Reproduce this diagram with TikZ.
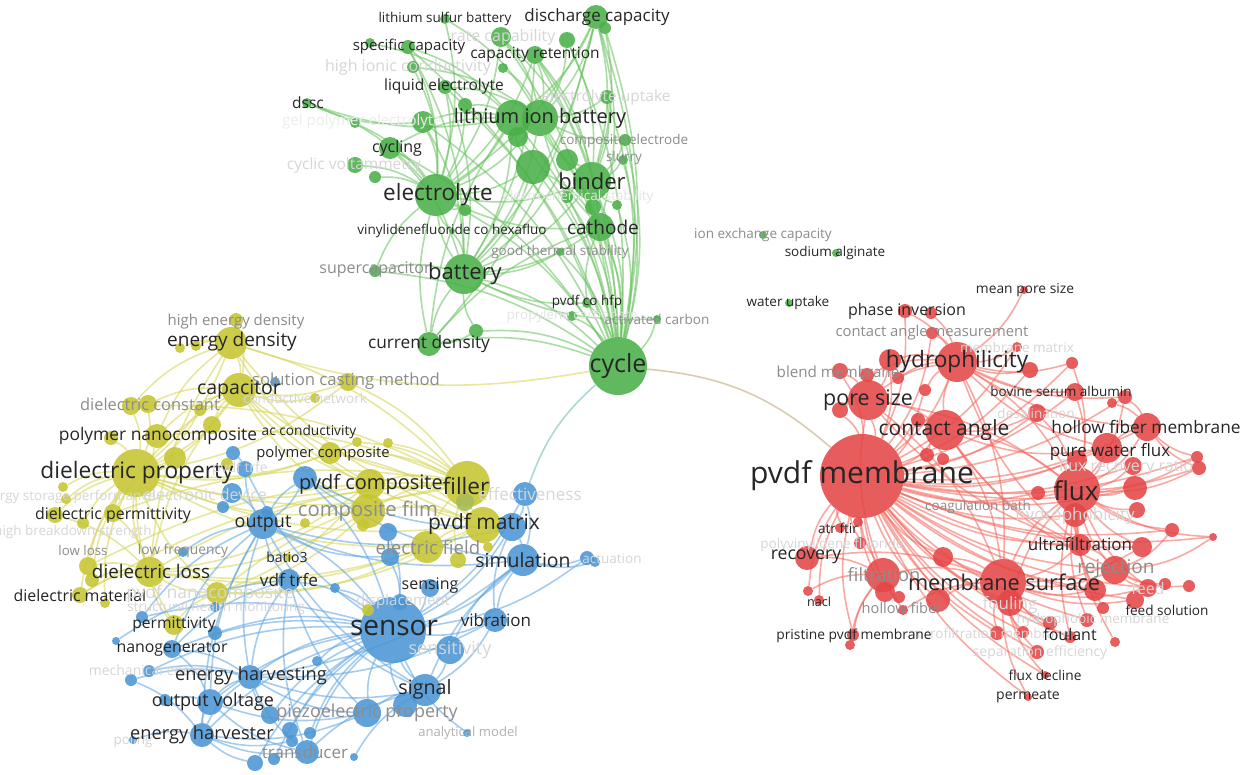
\documentclass[tikz,border=0pt]{standalone}
\usepackage{fontspec}
\setmainfont{Open Sans}
\pgfdeclarelayer{bg}
\pgfdeclarelayer{edges}
\pgfdeclarelayer{labels}
\pgfsetlayers{bg,edges,main,labels}
\definecolor{vgreen}{RGB}{74,176,72}
\definecolor{vyellow}{RGB}{198,198,50}
\definecolor{vblue}{RGB}{74,150,212}
\definecolor{vred}{RGB}{228,70,70}
\definecolor{gE}{RGB}{110,196,100}
\definecolor{yE}{RGB}{214,214,88}
\definecolor{bE}{RGB}{100,168,226}
\definecolor{rE}{RGB}{246,108,98}
\definecolor{tanE}{RGB}{190,168,118}
\definecolor{tealE}{RGB}{110,190,180}
\tikzset{
  kw/.style={circle, inner sep=0pt, minimum size=2*#1, fill opacity=.88},
  gk/.style={kw=#1, fill=vgreen},
  yk/.style={kw=#1, fill=vyellow},
  bk/.style={kw=#1, fill=vblue},
  rk/.style={kw=#1, fill=vred},
  tk/.style={font=\fontsize{#1}{#1}\selectfont, inner sep=0pt, text=black!85},
  tg/.style={tk=#1, text=black!45},
  tl/.style={tk=#1, text=black!16},
  link/.style={every edge/.style={draw=#1, line width=1.6pt, draw opacity=.58, bend right=14}}
}
\begin{document}
\begin{tikzpicture}[x=1pt,y=-1pt]
  \useasboundingbox (0,0) rectangle (1252,774);
  \begin{pgfonlayer}{bg}
    \fill[white] (0,0) rectangle (1252,774);
  \end{pgfonlayer}
  % battery cluster
  \node[gk=12] (dis) at (596,17) {};
  \node[gk=6] (dis2) at (605,28) {};
  \node[gk=5] (lsb) at (445,19) {};
  \node[gk=10] (rate) at (501,37) {};
  \node[gk=8] (g2) at (567,40) {};
  \node[gk=9] (capret) at (535,55) {};
  \node[gk=7] (spcap) at (408,47) {};
  \node[gk=5] (g3) at (370,43) {};
  \node[gk=6] (hic) at (413,67) {};
  \node[gk=5] (g4) at (503,68) {};
  \node[gk=7] (liqel) at (445,87) {};
  \node[gk=5] (dssc) at (307,103) {};
  \node[gk=7] (eup) at (607,97) {};
  \node[gk=7] (g5) at (465,105) {};
  \node[gk=5] (gpe) at (355,123) {};
  \node[gk=11] (g6) at (423,122) {};
  \node[gk=18] (lib1) at (513,118) {};
  \node[gk=18] (lib2) at (540,118) {};
  \node[gk=10] (g7) at (518,137) {};
  \node[gk=6] (cel) at (625,140) {};
  \node[gk=11] (cycl) at (390,148) {};
  \node[gk=5] (slur) at (623,160) {};
  \node[gk=11] (g8) at (567,160) {};
  \node[gk=17] (g9) at (533,167) {};
  \node[gk=8] (cv) at (355,165) {};
  \node[gk=6] (g10) at (375,177) {};
  \node[gk=19] (binder) at (592,181) {};
  \node[gk=21] (elyte) at (436,195) {};
  \node[gk=6] (g11) at (465,210) {};
  \node[gk=8] (g12) at (593,207) {};
  \node[gk=5] (g13) at (617,205) {};
  \node[gk=6] (g14) at (567,197) {};
  \node[gk=14] (cath) at (600,227) {};
  \node[gk=4] (gts) at (560,252) {};
  \node[gk=3] (vcf) at (452,231) {};
  \node[gk=6] (supc) at (375,271) {};
  \node[gk=20] (bat) at (464,274) {};
  \node[gk=5] (hfp) at (587,303) {};
  \node[gk=5] (prop) at (572,316) {};
  \node[gk=4] (acarb) at (657,319) {};
  \node[gk=12] (curden) at (429,344) {};
  \node[gk=7] (g15) at (476,331) {};
  \node[gk=29] (cycle) at (618,366) {};
  \node[gk=4] (iec) at (763,235) {};
  \node[gk=4] (sodal) at (836,253) {};
  \node[gk=4] (wup) at (789,303) {};
  % dielectric cluster
  \node[yk=7] (hed) at (236,320) {};
  \node[yk=16] (ed) at (231,343) {};
  \node[yk=5] (y1) at (180,348) {};
  \node[yk=5] (y2) at (196,346) {};
  \node[yk=9] (scm) at (348,382) {};
  \node[bk=5] (b1) at (275,382) {};
  \node[yk=5] (cnet) at (315,398) {};
  \node[yk=17] (capa) at (239,390) {};
  \node[yk=9] (dc1) at (131,406) {};
  \node[yk=9] (dc2) at (148,404) {};
  \node[yk=6] (y3) at (200,410) {};
  \node[yk=12] (pnc) at (157,436) {};
  \node[yk=7] (y4) at (111,438) {};
  \node[yk=9] (y5) at (212,425) {};
  \node[yk=5] (acc) at (357,442) {};
  \node[yk=5] (y6) at (388,443) {};
  \node[yk=11] (pcomp) at (330,453) {};
  \node[yk=24] (dp) at (136,473) {};
  \node[yk=11] (y7) at (175,458) {};
  \node[bk=7] (b2) at (233,453) {};
  \node[yk=6] (y8) at (227,464) {};
  \node[bk=8] (ptrfe) at (245,469) {};
  \node[bk=12] (b3) at (305,478) {};
  \node[yk=15] (pcy) at (370,484) {};
  \node[yk=23] (fil) at (467,484) {};
  \node[yk=9, fill=vyellow!75!vblue] (y9) at (465,502) {};
  \node[bk=12] (eff) at (525,494) {};
  \node[yk=17] (cf) at (368,511) {};
  \node[yk=5] (y10) at (305,523) {};
  \node[yk=6] (y11) at (363,525) {};
  \node[bk=10] (edev) at (232,493) {};
  \node[bk=6] (b4) at (223,507) {};
  \node[yk=5] (esp1) at (63,487) {};
  \node[yk=5] (esp2) at (66,499) {};
  \node[yk=8] (dpm1) at (55,515) {};
  \node[yk=9] (dpm2) at (113,513) {};
  \node[yk=6] (y12) at (83,523) {};
  \node[bk=15] (out) at (263,524) {};
  \node[bk=6] (b5) at (267,512) {};
  \node[yk=9] (y13) at (88,566) {};
  \node[yk=7] (y14) at (92,580) {};
  \node[bk=5] (lf) at (183,552) {};
  \node[yk=4] (bt) at (288,557) {};
  \node[yk=18] (pmy) at (483,525) {};
  \node[bk=14] (pmb) at (512,527) {};
  \node[yk=16] (ef) at (427,547) {};
  \node[bk=9] (b6) at (388,532) {};
  \node[bk=9] (b7) at (390,557) {};
  \node[bk=16] (sim) at (523,560) {};
  \node[yk=8] (y15) at (458,560) {};
  \node[yk=5] (y16) at (488,547) {};
  \node[bk=7] (b8) at (587,558) {};
  \node[bk=5] (b9) at (595,562) {};
  \node[yk=15] (dl) at (150,572) {};
  \node[bk=11] (vdf) at (289,580) {};
  \node[yk=8] (dm) at (80,595) {};
  \node[yk=5] (y17) at (105,603) {};
  \node[yk=11] (pnc2) at (217,593) {};
  \node[bk=5] (b10) at (215,607) {};
  \node[yk=10] (perm) at (174,625) {};
  \node[bk=6] (b11) at (142,617) {};
  \node[bk=7] (b12) at (215,633) {};
  % sensor cluster
  \node[bk=9] (ng) at (172,649) {};
  \node[bk=4] (b13) at (116,641) {};
  \node[bk=6] (b14) at (149,671) {};
  \node[bk=6] (b15) at (131,680) {};
  \node[bk=12] (eh) at (250,677) {};
  \node[bk=5] (b16) at (317,661) {};
  \node[bk=13] (ov) at (210,702) {};
  \node[bk=6] (b17) at (165,700) {};
  \node[bk=12] (eher) at (202,735) {};
  \node[bk=4] (b18) at (133,740) {};
  \node[bk=9] (b19) at (270,715) {};
  \node[bk=8] (b20) at (290,730) {};
  \node[bk=6] (b21) at (292,741) {};
  \node[bk=6] (b22) at (310,733) {};
  \node[bk=14] (pp) at (367,713) {};
  \node[bk=12] (b23) at (405,705) {};
  \node[bk=12] (trans) at (307,752) {};
  \node[bk=8] (b24) at (255,763) {};
  \node[bk=6] (b25) at (274,759) {};
  \node[bk=4] (b26) at (354,757) {};
  \node[bk=4] (am) at (467,733) {};
  \node[bk=16] (sig) at (425,690) {};
  \node[bk=33] (sensor) at (393,630) {};
  \node[bk=14] (sens) at (450,650) {};
  \node[bk=12] (vib) at (495,620) {};
  \node[bk=9] (sng) at (430,588) {};
  \node[bk=8] (b27) at (400,602) {};
  \node[yk=6] (y18) at (368,610) {};
  \node[bk=5] (b28) at (335,588) {};
  % membrane cluster
  \node[rk=4] (mps) at (1024,290) {};
  \node[rk=7] (pi1) at (905,311) {};
  \node[rk=6] (pi2) at (931,313) {};
  \node[rk=6] (cam) at (932,333) {};
  \node[rk=5] (mm) at (1017,347) {};
  \node[rk=20] (hyd) at (957,362) {};
  \node[rk=11] (r1) at (890,360) {};
  \node[rk=8] (r2) at (1030,370) {};
  \node[rk=6] (r3) at (1072,363) {};
  \node[rk=8] (bm1) at (840,371) {};
  \node[rk=7] (r4) at (867,375) {};
  \node[rk=6] (r5) at (898,378) {};
  \node[rk=9] (bsa) at (1075,392) {};
  \node[rk=7] (r6) at (1125,397) {};
  \node[rk=5] (r7) at (1112,403) {};
  \node[rk=9] (des) at (1037,413) {};
  \node[rk=20] (ps) at (868,400) {};
  \node[rk=8] (r8) at (840,410) {};
  \node[rk=6] (r9) at (925,390) {};
  \node[rk=20] (ca) at (945,430) {};
  \node[rk=7] (r10) at (918,420) {};
  \node[rk=7] (r11) at (927,455) {};
  \node[rk=6] (r12) at (943,459) {};
  \node[rk=14] (hfm) at (1147,427) {};
  \node[rk=15] (pwf) at (1107,448) {};
  \node[rk=10] (r14) at (1077,460) {};
  \node[rk=6] (r15) at (1197,457) {};
  \node[rk=7] (r16) at (1199,468) {};
  \node[rk=9] (frr) at (1133,466) {};
  \node[rk=42] (pm) at (862,476) {};
  \node[rk=23] (flux) at (1077,490) {};
  \node[rk=7] (r17) at (1038,493) {};
  \node[rk=12] (r18) at (1135,488) {};
  \node[rk=8] (r19) at (1137,510) {};
  \node[rk=12] (hpho) at (1075,515) {};
  \node[rk=5] (atr1) at (840,528) {};
  \node[rk=5] (atr2) at (858,522) {};
  \node[rk=6] (r20) at (860,543) {};
  \node[rk=12] (rec) at (807,558) {};
  \node[rk=10] (r21) at (943,557) {};
  \node[rk=11] (uf) at (1080,545) {};
  \node[rk=10] (r22) at (1142,547) {};
  \node[rk=7] (r23) at (1172,530) {};
  \node[rk=4] (r24) at (1213,537) {};
  \node[rk=17] (filt) at (883,575) {};
  \node[rk=10] (r25) at (885,592) {};
  \node[rk=6] (r26) at (899,597) {};
  \node[rk=12] (r27) at (938,600) {};
  \node[rk=23] (ms) at (1003,582) {};
  \node[rk=14] (rej) at (1115,570) {};
  \node[rk=11] (r28) at (1095,590) {};
  \node[rk=9] (feed) at (1148,588) {};
  \node[rk=6] (r29) at (1165,584) {};
  \node[rk=6] (r30) at (1189,586) {};
  \node[rk=9] (r31) at (1135,600) {};
  \node[rk=13] (foul) at (1010,603) {};
  \node[rk=5] (hf) at (903,610) {};
  \node[rk=5] (nacl1) at (808,591) {};
  \node[rk=5] (nacl2) at (819,600) {};
  \node[rk=6] (ppm1) at (853,635) {};
  \node[rk=5] (ppm2) at (850,645) {};
  \node[rk=7] (r32) at (1050,623) {};
  \node[rk=6] (fnt) at (1070,637) {};
  \node[rk=7] (r33) at (1087,620) {};
  \node[rk=6] (r34) at (1103,608) {};
  \node[rk=5] (r35) at (1115,642) {};
  \node[rk=6] (r36) at (1023,632) {};
  \node[rk=7] (r37) at (997,633) {};
  \node[rk=7] (se) at (1037,652) {};
  \node[rk=4] (fd) at (1045,675) {};
  \node[rk=4] (pmt) at (1028,697) {};
  % links
  \begin{pgfonlayer}{edges}
  \begin{scope}[link=gE]
    \path (cycle) edge (dis) edge (dis2) edge (rate) edge (capret) edge (g2) edge (eup) edge (lib1) edge (lib2) edge (binder) edge (cath) edge (bat) edge (elyte) edge (curden) edge (cel) edge (slur) edge (hfp) edge (prop) edge (acarb) edge (g8) edge (g9) edge (g12) edge (g13) edge (g14) edge (gts) edge (g15) edge (spcap) edge (liqel) edge (cycl) edge (supc) edge (g7) edge (g6);
    \path (elyte) edge (lib1) edge (lib2) edge (bat) edge (binder) edge (cath) edge (cycl) edge (liqel) edge (spcap) edge (hic) edge (gpe) edge (cv) edge (g10) edge (g6) edge (g5) edge (supc) edge (curden) edge (dssc) edge (capret) edge (dis) edge (g9) edge (vcf) edge (g11) edge (lsb) edge (rate);
    \path (bat) edge (lib1) edge (lib2) edge (binder) edge (cath) edge (curden) edge (supc) edge (g15) edge (g9) edge (g8) edge (capret) edge (dis) edge (hfp) edge (gts) edge (vcf) edge (g6) edge (cycl) edge (acarb) edge (liqel) edge (spcap);
    \path (lib2) edge (binder) edge (cath) edge (dis) edge (capret) edge (rate) edge (g2) edge (eup) edge (cel) edge (g8) edge (g7) edge (liqel) edge (hic) edge (lsb) edge (g4);
    \path (lib1) edge (g9) edge (g6) edge (g5) edge (spcap) edge (cycl) edge (curden) edge (dis) edge (g3);
    \path (binder) edge (cath) edge (dis) edge (capret) edge (eup) edge (cel) edge (slur) edge (g8) edge (g12) edge (g13) edge (g14) edge (g2) edge (rate) edge (dis2);
    \path (cath) edge (dis) edge (capret) edge (g9) edge (hfp) edge (curden);
    \path (dssc) edge (lib1) edge (g6);
    \path (curden) edge (g15) edge (dis);
  \end{scope}
  \begin{scope}[link=yE]
    \path (dp) edge (ed) edge (capa) edge (pnc) edge (dc1) edge (dc2) edge (dpm1) edge (dpm2) edge (dl) edge (dm) edge (y13) edge (y14) edge (pcomp) edge (pcy) edge (fil) edge (pmy) edge (cf) edge (ef) edge (y7) edge (y5) edge (y3) edge (esp1) edge (esp2) edge (y12) edge (perm) edge (pnc2) edge (scm) edge (acc) edge (y4) edge (y17);
    \path (capa) edge (ed) edge (hed) edge (fil) edge (pcy) edge (pmy) edge (cf) edge (dl) edge (pnc) edge (scm) edge (cnet) edge (y3) edge (y5) edge (dc2) edge (dpm2);
    \path (fil) edge (pcy) edge (pcomp) edge (cf) edge (pmy) edge (ef) edge (y9) edge (y15) edge (scm) edge (ed) edge (pnc) edge (dl) edge (dpm2) edge (y6) edge (acc) edge (pnc2) edge (dc1) edge (y13) edge (dm);
    \path (ed) edge (hed) edge (y1) edge (y2) edge (pnc) edge (dc1) edge (pmy) edge (dl) edge (pcy) edge (cycle);
    \path (dl) edge (y13) edge (y14) edge (dm) edge (dpm2) edge (pnc2) edge (perm) edge (pcy) edge (cf) edge (pmy) edge (ef) edge (dpm1);
    \path (pnc2) edge (pmy) edge (perm) edge (ef) edge (cf) edge (pcy);
    \path (pmy) edge (pcy) edge (cf) edge (ef) edge (y16) edge (pcomp);
  \end{scope}
  \begin{scope}[link=bE]
    \path (sensor) edge (sig) edge (sens) edge (vib) edge (sng) edge (b27) edge (pp) edge (b23) edge (trans) edge (eh) edge (ov) edge (eher) edge (ng) edge (out) edge (vdf) edge (sim) edge (pmb) edge (b6) edge (b7) edge (b19) edge (b20) edge (b22) edge (b24) edge (b25) edge (am) edge (b16) edge (b28) edge (b12) edge (b8) edge (eff) edge (b3) edge (b11) edge (b14);
    \path (out) edge (vdf) edge (eh) edge (ov) edge (eher) edge (ng) edge (sim) edge (pmb) edge (b7) edge (b3) edge (edev) edge (b11) edge (lf) edge (sig) edge (b5);
    \path (eh) edge (ov) edge (eher) edge (ng) edge (sig) edge (pp) edge (trans) edge (b19) edge (b14) edge (b15) edge (sim) edge (vib);
    \path (sim) edge (b8) edge (b9) edge (vib) edge (pmb) edge (eff) edge (sig) edge (sens);
    \path (vdf) edge (pp) edge (sig) edge (eh) edge (trans) edge (ng) edge (b13);
    \path (sig) edge (pp) edge (trans) edge (b23) edge (vib) edge (sens) edge (b26);
    \path (ov) edge (eher) edge (b17) edge (trans) edge (pp) edge (ng);
    \path (eher) edge (b18) edge (trans) edge (b24) edge (pp) edge (b21) edge (b15);
    \path (b3) edge (sim) edge (out) edge (pmb);
    \path (ptrfe) edge (out) edge (sensor) edge (b2);
    \path (pmb) edge (eff) edge (vib);
  \end{scope}
  \begin{scope}[link=rE]
    \path (pm) edge (hyd) edge (ps) edge (ca) edge (flux) edge (ms) edge (uf) edge (pwf) edge (hfm) edge (bsa) edge (des) edge (rej) edge (feed) edge (foul) edge (filt) edge (rec) edge (atr1) edge (atr2) edge (r20) edge (nacl1) edge (ppm1) edge (hf) edge (r21) edge (r27) edge (r17) edge (hpho) edge (frr) edge (r14) edge (r18) edge (r22) edge (r28) edge (r31) edge (fnt) edge (se) edge (fd) edge (pmt) edge (r1) edge (r9) edge (r10) edge (bm1) edge (r8) edge (pi1) edge (cam) edge (mm) edge (r2) edge (r3) edge (r6) edge (r15) edge (r16) edge (r23) edge (r24) edge (r33) edge (r36) edge (r37) edge (r32) edge (nacl2) edge (r25);
    \path (flux) edge (hyd) edge (ps) edge (ca) edge (ms) edge (pwf) edge (hfm) edge (bsa) edge (uf) edge (rej) edge (feed) edge (foul) edge (r18) edge (r19) edge (r22) edge (r23) edge (frr) edge (r15) edge (r16) edge (des) edge (r6) edge (r3) edge (r28) edge (fnt) edge (r33) edge (r34) edge (r35) edge (r24);
    \path (ms) edge (hyd) edge (ps) edge (ca) edge (uf) edge (rej) edge (foul) edge (filt) edge (r27) edge (r21) edge (hf) edge (r28) edge (fnt) edge (r32) edge (r36) edge (r37) edge (se) edge (fd) edge (pmt) edge (feed) edge (r31) edge (r22) edge (rec);
    \path (hyd) edge (ps) edge (ca) edge (pi1) edge (pi2) edge (cam) edge (mm) edge (r1) edge (r2) edge (r3) edge (bsa) edge (r4) edge (r5) edge (r9) edge (uf) edge (hfm) edge (pwf) edge (r6) edge (mps);
    \path (ca) edge (ps) edge (uf) edge (pwf) edge (r10) edge (r11) edge (r12) edge (des) edge (rej);
    \path (ps) edge (r1) edge (bm1) edge (r4) edge (r8) edge (filt) edge (uf);
    \path (hfm) edge (r15) edge (r16) edge (r6) edge (r7) edge (pwf);
    \path (rej) edge (r23) edge (r24) edge (feed) edge (r29) edge (r30) edge (uf);
    \path (filt) edge (rec) edge (ppm1) edge (ppm2) edge (r25) edge (nacl1);
  \end{scope}
  \begin{scope}[link=tanE]
    \path (cycle) edge[bend left=18] (pm);
  \end{scope}
  \begin{scope}[link=tealE]
    \path (cycle) edge (eff);
  \end{scope}
  \end{pgfonlayer}
  % labels
  \begin{pgfonlayer}{labels}
  \node[tk=17] (t-dis) at (597,17) {discharge capacity};
  \node[tk=13.5] (t-lsb) at (445,19) {lithium sulfur battery};
  \node[tl=16] (t-rate) at (503,37) {rate capability};
  \node[tk=15.5] (t-capret) at (535,55) {capacity retention};
  \node[tk=15] (t-spcap) at (409,47) {specific capacity};
  \node[tl=16] (t-hic) at (408,67) {high ionic conductivity};
  \node[tk=15.5] (t-liqel) at (444,86) {liquid electrolyte};
  \node[tk=15.5] (t-dssc) at (308,103) {dssc};
  \node[tl=15.5] (t-eup) at (606,97) {electrolyte uptake};
  \node[tk=15, text=black!7] (t-gpe) at (362,122) {gel polymer electrolyte};
  \node[tk=20] (t-lib) at (540,118) {lithium ion battery};
  \node[tg=13.5] (t-cel) at (624,141) {composite electrode};
  \node[tk=16] (t-cycl) at (397,148) {cycling};
  \node[tg=13.5] (t-slur) at (624,158) {slurry};
  \node[tl=15.5] (t-cv) at (354,165) {cyclic voltammetry};
  \node[tk=22] (t-binder) at (592,181) {binder};
  \node[tk=22.5] (t-elyte) at (438,195) {electrolyte};
  \node[tk=13.5, text=black!10] (t-ecs) at (578,197) {electrochemical stability};
  \node[tk=13.5] (t-vcf) at (452,231) {vinylidenefluoride co hexafluo};
  \node[tk=19] (t-cath) at (603,227) {cathode};
  \node[tg=13.5] (t-gts) at (560,252) {good thermal stability};
  \node[tg=16] (t-supc) at (375,270) {supercapacitor};
  \node[tk=22] (t-bat) at (465,274) {battery};
  \node[tk=13.5] (t-hfp) at (587,302) {pvdf co hfp};
  \node[tk=13.5, text=black!10] (t-prop) at (572,316) {propylene carbonate};
  \node[tg=13.5] (t-acarb) at (657,319) {activated carbon};
  \node[tk=17.3] (t-curden) at (429,344) {current density};
  \node[tk=25] (t-cycle) at (618,366) {cycle};
  \node[tg=13.5] (t-iec) at (763,235) {ion exchange capacity};
  \node[tk=13.5] (t-sodal) at (835,253) {sodium alginate};
  \node[tk=13.5] (t-wup) at (788,303) {water uptake};
  \node[tg=15] (t-hed) at (236,322) {high energy density};
  \node[tk=19] (t-ed) at (232,342) {energy density};
  \node[tg=16.7] (t-scm) at (346,381) {solution casting method};
  \node[tl=13.5] (t-cnet) at (305,398) {conductive network};
  \node[tk=19.5] (t-capa) at (239,390) {capacitor};
  \node[tg=16.4] (t-dc) at (150,404) {dielectric constant};
  \node[tk=17.4] (t-pnc) at (158,436) {polymer nanocomposite};
  \node[tk=13.7] (t-acc) at (309,432) {ac conductivity};
  \node[tk=14.8] (t-pcomp) at (323,454) {polymer composite};
  \node[tk=22.7] (t-dp) at (137,473) {dielectric property};
  \node[tl=14] (t-ptrfe) at (240,469) {pvdf trfe};
  \node[tk=20] (t-pc) at (371,484) {pvdf composite};
  \node[tk=22.6] (t-fil) at (466,486) {filler};
  \node[tl=17] (t-eff) at (530,494) {effectiveness};
  \node[tg=20.3] (t-cf) at (368,511) {composite film};
  \node[tl=16] (t-edev) at (205,494) {electronic device};
  \node[tl=13.5] (t-esp) at (66,497) {energy storage performance};
  \node[tk=15.9] (t-dpm) at (113,515) {dielectric permittivity};
  \node[tl=13.5] (t-hbs) at (73,532) {high breakdown strength};
  \node[tk=18] (t-out) at (263,524) {output};
  \node[tg=13.3] (t-ll) at (83,551) {low loss};
  \node[tg=13.8] (t-lf) at (183,551) {low frequency};
  \node[tk=14] (t-bt) at (287,557) {batio3};
  \node[tk=21] (t-pm) at (484,524) {pvdf matrix};
  \node[tg=18.6] (t-ef) at (428,547) {electric field};
  \node[tk=19.4] (t-sim) at (523,560) {simulation};
  \node[tl=13.5] (t-act) at (612,559) {actuation};
  \node[tk=18.8] (t-dl) at (151,571) {dielectric loss};
  \node[tk=17.2] (t-vdf) at (289,580) {vdf trfe};
  \node[tk=15.9] (t-dm) at (80,596) {dielectric material};
  \node[tl=17.5] (t-pnc2) at (210,594) {pvdf nanocomposite};
  \node[tl=13.5] (t-shm) at (216,608) {structural health monitoring};
  \node[tk=16] (t-sng) at (430,586) {sensing};
  \node[tl=15] (t-disp) at (403,602) {displacement};
  \node[tk=15.6] (t-perm) at (174,625) {permittivity};
  \node[tk=15.9] (t-ng) at (172,649) {nanogenerator};
  \node[tl=14] (t-me) at (150,672) {mechanical energy};
  \node[tk=18.2] (t-eh) at (251,676) {energy harvesting};
  \node[tk=18] (t-ov) at (213,702) {output voltage};
  \node[tl=13.5] (t-pol) at (133,741) {poling};
  \node[tk=18.2] (t-eher) at (202,735) {energy harvester};
  \node[tg=17.9] (t-pp) at (367,713) {piezoelectric property};
  \node[tg=17] (t-trans) at (305,752) {transducer};
  \node[tk=13.1, text=black!30] (t-am) at (468,733) {analytical model};
  \node[tk=19.7] (t-sig) at (425,689) {signal};
  \node[tk=28] (t-sensor) at (394,628) {sensor};
  \node[tl=18] (t-sens) at (450,650) {sensitivity};
  \node[tk=17] (t-vib) at (496,620) {vibration};
  \node[tk=13.8] (t-mps) at (1025,290) {mean pore size};
  \node[tk=16] (t-pi) at (907,311) {phase inversion};
  \node[tg=14.8] (t-cam) at (932,333) {contact angle measurement};
  \node[tl=13.5] (t-mm) at (1017,347) {membrane matrix};
  \node[tk=22.6] (t-hyd) at (957,362) {hydrophilicity};
  \node[tg=15.2] (t-bm) at (838,372) {blend membrane};
  \node[tk=13.5] (t-bsa) at (1061,391) {bovine serum albumin};
  \node[tl=13.5] (t-des) at (1036,413) {desalination};
  \node[tk=21.4] (t-ps) at (868,400) {pore size};
  \node[tk=21] (t-ca) at (944,430) {contact angle};
  \node[tk=17.3] (t-hfm) at (1146,427) {hollow fiber membrane};
  \node[tk=17] (t-pwf) at (1110,452) {pure water flux};
  \node[tl=16] (t-frr) at (1126,467) {flux recovery ratio};
  \node[tk=30] (t-pvdfm) at (862,476) {pvdf membrane};
  \node[tk=26] (t-flux) at (1076,491) {flux};
  \node[tl=17] (t-hpho) at (1075,516) {hydrophobicity};
  \node[tg=13.5] (t-cb) at (978,507) {coagulation bath};
  \node[tk=13.6] (t-atr) at (838,528) {atr ftir};
  \node[tl=13.5] (t-pvf) at (832,545) {polyvinylidene fluoride};
  \node[tk=17] (t-uf) at (1080,544) {ultrafiltration};
  \node[tk=17.7] (t-rec) at (806,557) {recovery};
  \node[tg=18.3] (t-filt) at (884,575) {filtration};
  \node[tk=21.7] (t-ms) at (1004,582) {membrane surface};
  \node[tg=19] (t-rej) at (1116,569) {rejection};
  \node[tl=16] (t-feed) at (1148,588) {feed};
  \node[tl=17] (t-foul) at (1010,605) {fouling};
  \node[tl=13.5] (t-hpm) at (1093,620) {hydrophobic membrane};
  \node[tl=13.5] (t-mfm) at (989,633) {microfiltration membrane};
  \node[tk=13.6] (t-fs) at (1167,610) {feed solution};
  \node[tg=14.6] (t-hf) at (902,608) {hollow fiber};
  \node[tk=12.6] (t-nacl) at (819,602) {nacl};
  \node[tk=16] (t-fnt) at (1070,634) {foulant};
  \node[tk=13.8] (t-ppm) at (854,636) {pristine pvdf membrane};
  \node[tl=14] (t-se) at (1040,653) {separation efficiency};
  \node[tk=13.7] (t-fd) at (1045,675) {flux decline};
  \node[tk=14] (t-pmt) at (1028,697) {permeate};
  \end{pgfonlayer}
\end{tikzpicture}
\end{document}
